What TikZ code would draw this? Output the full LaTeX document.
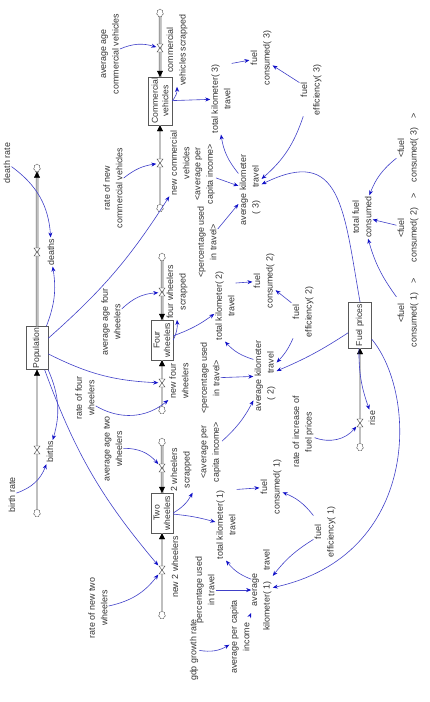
\documentclass[tikz,border=0pt]{standalone}
\usepackage{fontspec}
\setmainfont{Liberation Sans}
\usepackage{tikz}
\usetikzlibrary{arrows.meta,shapes.symbols}
\definecolor{linkblue}{HTML}{4040C8}
\definecolor{tipblue}{HTML}{1010C8}

\begin{document}
\begin{tikzpicture}[
    x=1pt,y=-1pt,
    font=\fontsize{8.9}{12.5}\selectfont,
    aux/.style={rotate=90,align=center,inner sep=1pt,text=black!80},
    stock/.style={draw=black!65,thin,fill=white,rotate=90,align=center,inner sep=1pt,
      text=black!80,font=\fontsize{8.6}{10.5}\selectfont},
    source/.style={cloud,cloud puffs=7,draw=black!60,fill=white,inner sep=0pt,
      minimum width=7pt,minimum height=8pt},
    valve/.style={inner sep=0pt,minimum width=7pt,minimum height=9pt},
    pipe/.style={draw=black!60,double=black!25,double distance=1.5pt,line width=0.5pt},
    pipetip/.style={draw=black!25,line width=0.4pt,-{Triangle[length=6pt,width=6pt,black]}},
    link/.style={-{Stealth[length=5pt,width=4pt,tipblue]},linkblue,line width=0.6pt}
  ]
    \useasboundingbox (0,0) rectangle (429,702);

    % stocks
    \node[stock,minimum width=48pt,minimum height=24pt] (cv) at (160,101) {Commercial\\vehicles};
    \node[stock,minimum width=40pt,minimum height=22pt] (fw) at (162,340) {Four\\wheelers};
    \node[stock,minimum width=40pt,minimum height=22pt] (tw) at (162,513) {Two\\wheelers};
    \node[stock,minimum width=43pt,minimum height=22pt] (pop) at (37,348) {Population};
    \node[stock,minimum width=46pt,minimum height=23pt] (fp) at (360,325) {Fuel prices};

    % clouds
    \node[source] (cvsink) at (160,13) {};
    \node[source] (cvsrc) at (160,208) {};
    \node[source] (popsink) at (37,168) {};
    \node[source] (popsrc) at (37,513) {};
    \node[source] (fwsink) at (162,257) {};
    \node[source] (fwsrc) at (162,410) {};
    \node[source] (twsink) at (162,442) {};
    \node[source] (twsrc) at (162,615) {};
    \node[source] (fpsrc) at (360,447) {};

    % valves
    \node[valve] (vcs) at (160,48) {};
    \node[valve] (vnc) at (160,163) {};
    \node[valve] (vd) at (37,252) {};
    \node[valve] (vb) at (37,450) {};
    \node[valve] (vfs) at (162,292) {};
    \node[valve] (vnf) at (162,383) {};
    \node[valve] (vts) at (162,468) {};
    \node[valve] (vnt) at (162,570) {};
    \node[valve] (vr) at (360,423) {};

    % flow names
    \node[aux] (cvs) at (177,50) {commercial\\vehicles scrapped};
    \node[aux] (ncv) at (180,163) {new commercial\\vehicles};
    \node[aux] (deaths) at (51,252) {deaths};
    \node[aux] (births) at (50,452) {births};
    \node[aux] (fws) at (177,292) {four wheelers\\scrapped};
    \node[aux] (nfw) at (179,381) {new four\\wheelers};
    \node[aux] (tws) at (181,470) {2 wheelers\\scrapped};
    \node[aux] (ntw) at (175,567) {new 2 wheelers};
    \node[aux] (rise) at (372,418) {rise};

    % auxiliaries
    \node[aux] (avcv) at (110,54) {average age\\commercial vehicles};
    \node[aux] (dr) at (7,163) {death rate};
    \node[aux] (rnc) at (113,188) {rate of new\\commercial vehicles};
    \node[aux] (br) at (12,495) {birth rate};
    \node[aux] (afw) at (111,322) {average age four\\wheelers};
    \node[aux] (rfw) at (85,398) {rate of four\\wheelers};
    \node[aux] (atw) at (113,449) {average age two\\wheelers};
    \node[aux] (rtw) at (98,608) {rate of new two\\wheelers};
    \node[aux] (inc3) at (205,174) {<average per\\capita income>};
    \node[aux] (pct3) at (207,242) {<percentage used\\in travel>};
    \node[aux] (akm3) at (250,190) {average kilometer\\( 3)\hspace{1.5em}travel};
    \node[aux] (tkm3) at (221,99) {total kilometer( 3)\\travel};
    \node[aux] (fc3) at (261,58) {fuel\\consumed( 3)};
    \node[aux] (fe3) at (311,90) {fuel\\efficiency( 3)};
    \node[aux] (fcr3) at (408,148) {<fuel\\consumed( 3)\quad >};
    \node[aux] (tfc) at (362,217) {total fuel\\consumed};
    \node[aux] (fcr2) at (408,228) {<fuel\\consumed( 2)\quad >};
    \node[aux] (fcr1) at (408,313) {<fuel\\consumed( 1)\quad >};
    \node[aux] (tkm2) at (225,306) {total kilometer( 2)\\travel};
    \node[aux] (fc2) at (264,281) {fuel\\consumed( 2)};
    \node[aux] (fe2) at (303,312) {fuel\\efficiency( 2)};
    \node[aux] (akm2) at (265,376) {average kilometer\\( 2)\hspace{1.5em}travel};
    \node[aux] (pct2) at (210,378) {<percentage used\\in travel>};
    \node[aux] (inc2) at (211,452) {<average per\\capita income>};
    \node[aux] (rfp) at (303,432) {rate of increase of\\fuel prices};
    \node[aux] (tkm1) at (226,525) {total kilometer( 1)\\travel};
    \node[aux] (fc1) at (271,487) {fuel\\consumed( 1)};
    \node[aux] (fe1) at (325,532) {fuel\\efficiency( 1)};
    \node[aux] (akm1) at (262,590) {average\\kilometer( 1)\hspace{1.2em}travel};
    \node[aux] (pct) at (205,590) {percentage used\\in travel};
    \node[aux] (gdp) at (194,650) {gdp growth rate};
    \node[aux] (inc) at (240,637) {average per capita\\income};

    % pipes
    \draw[pipe] (cvsink) -- (cv);
    \draw[pipetip] (vcs) -- (cv);
    \draw[pipe] (cvsrc) -- (cv);
    \draw[pipetip] (vnc) -- (cv);
    \draw[pipe] (pop) -- (popsink);
    \draw[pipetip] (vd) -- (popsink);
    \draw[pipe] (popsrc) -- (pop);
    \draw[pipetip] (vb) -- (pop);
    \draw[pipe] (fwsink) -- (fw);
    \draw[pipetip] (vfs) -- (fw);
    \draw[pipe] (fwsrc) -- (fw);
    \draw[pipetip] (vnf) -- (fw);
    \draw[pipe] (twsink) -- (tw);
    \draw[pipetip] (vts) -- (tw);
    \draw[pipe] (twsrc) -- (tw);
    \draw[pipetip] (vnt) -- (tw);
    \draw[pipe] (fpsrc) -- (fp);
    \draw[pipetip] (vr) -- (fp);
    \foreach \v in {vcs,vnc,vd,vb,vfs,vnf,vts,vnt,vr}
      \draw[black!75,fill=white,line width=0.4pt]
        (\v) +(-3,-4) -- +(3,-4) -- +(-3,4) -- +(3,4) -- cycle;

    % population links
    \draw[link] (dr) to[bend left=25] (deaths);
    \draw[link] (pop) to[bend right=15] (deaths);
    \draw[link] (pop) to[bend left=20] (births);
    \draw[link] (br) to[bend right=25] (births);
    \draw[link] (pop) to[bend right=8] (ncv.north west);
    \draw[link] (pop) to[bend right=12] (vnf);
    \draw[link] (pop) to[bend right=10] (vnt);

    % vehicle flows
    \draw[link] (avcv) to[bend left=20] (vcs);
    \draw[link] (rnc) to[bend left=15] (vnc);
    \draw[link] (afw) to[bend left=20] (vfs);
    \draw[link] (rfw) to[bend right=35] (nfw.north west);
    \draw[link] (atw) to[bend left=25] (vts);
    \draw[link] (rtw) to[bend right=20] (vnt);
    \draw[link] (cv.south) to[bend right=20] (cvs.west);
    \draw[link] (fw.south) to[bend right=15] (fws.west);
    \draw[link] (tw.south) to[bend right=15] (tws.south west);
    \draw[link] (cv) -- (tkm3);
    \draw[link] (fw) to[bend right=8] (tkm2);
    \draw[link] (tw) to[bend left=5] (tkm1);

    % kilometres and fuel
    \draw[link] (tkm3.south east) -- (fc3);
    \draw[link] (fe3) -- (fc3);
    \draw[link] (fe3) to[bend left=15] (akm3);
    \draw[link] (inc3) -- (akm3);
    \draw[link] (pct3) -- (akm3);
    \draw[link] (akm3.35) to[bend left=15] (tkm3.west);
    \draw[link] (tkm2.-25) -- (fc2);
    \draw[link] (fe2) -- (fc2);
    \draw[link] (fe2) to[bend left=10] (akm2);
    \draw[link] (pct2) -- (akm2);
    \draw[link] (inc2) to[bend right=10] (akm2);
    \draw[link] (akm2.35) to[bend left=15] (tkm2.west);
    \draw[link] (tkm1.south east) -- (fc1);
    \draw[link] (fe1) to[bend right=15] (fc1);
    \draw[link] (fe1) to[bend right=10] (akm1);
    \draw[link] (pct) -- (akm1);
    \draw[link] (inc) -- (akm1);
    \draw[link] (akm1.45) to[bend left=15] (tkm1.west);
    \draw[link] (gdp) to[bend right=20] (inc);

    % fuel prices
    \draw[link] (fp.east) to[out=100,in=5,looseness=1.3] (akm3);
    \draw[link] (fp) to[bend left=5] (akm2);
    \draw[link] (fp) .. controls (418,395) and (420,555) .. (akm1);
    \draw[link] (fp) to[bend right=10] (rise);
    \draw[link] (rfp) to[bend right=35] (vr);
    \draw[link] (fcr3) to[bend right=15] (tfc);
    \draw[link] (fcr2) -- (tfc);
    \draw[link] (fcr1) to[bend left=10] (tfc);
\end{tikzpicture}
\end{document}
